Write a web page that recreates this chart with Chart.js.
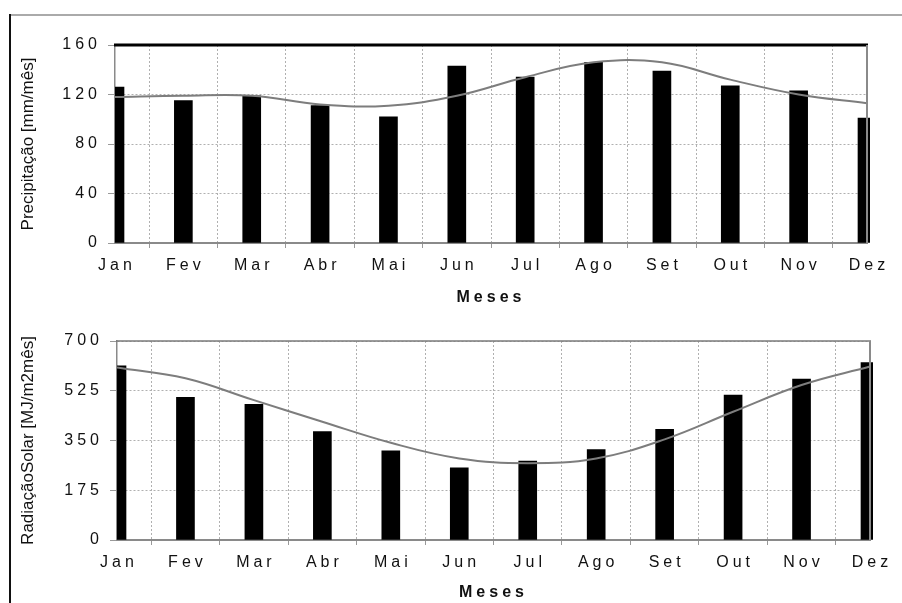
<!DOCTYPE html>
<html>
<head>
<meta charset="utf-8">
<script src="https://cdn.jsdelivr.net/npm/chart.js@4/dist/chart.umd.min.js"></script>
<style>
  html, body { margin: 0; padding: 0; background: #fff; }
  body { width: 902px; height: 603px; position: relative; overflow: hidden; }
  .box { position: absolute; left: 0; width: 902px; }
  #top-box { top: 0; height: 310px; }
  #bottom-box { top: 300px; height: 303px; }
  .rule-h { position: absolute; left: 10px; top: 14px; width: 892px; height: 2px; background: #aaa; }
  .rule-v { position: absolute; left: 9px; top: 14px; width: 2px; height: 589px; background: #111; }
</style>
</head>
<body>
<div class="rule-h"></div>
<div class="rule-v"></div>
<div class="box" id="top-box"><canvas id="precChart"></canvas></div>
<div class="box" id="bottom-box"><canvas id="radChart"></canvas></div>
<script>
const months = ['Jan', 'Fev', 'Mar', 'Abr', 'Mai', 'Jun', 'Jul', 'Ago', 'Set', 'Out', 'Nov', 'Dez'];

// Precipitação [mm/mês]
const precBars = [126, 115, 119, 111, 102, 143, 134, 146, 139, 127, 123, 101];
const precCurve = [118, 119, 119, 112, 111, 119, 134, 146, 146, 132, 120, 113];
const precTicks = [0, 40, 80, 120, 160];

// Radiação solar [MJ/m2mês]
const radBars = [613, 502, 477, 381, 314, 254, 278, 318, 389, 510, 566, 624];
const radCurve = [607, 569, 492, 416, 342, 287, 270, 287, 354, 451, 545, 610];
const radTicks = [0, 175, 350, 525, 700];

const tickFont = { family: 'Liberation Sans, Arial, sans-serif', size: 16 };
const spacing = 4;

// stretch tick labels and the x title a bit, like the wide lettering of the original
const wideLabels = {
    id: 'wideLabels',
    beforeDraw(chart) {
        const ctx = chart.ctx;
        Object.values(chart.scales).forEach(scale => {
            if (scale._wide) return;
            scale._wide = true;
            const spread = fn => area => {
                ctx.save();
                ctx.letterSpacing = spacing + 'px';
                fn.call(scale, area);
                ctx.restore();
            };
            scale.drawLabels = spread(scale.drawLabels);
            if (scale.axis === 'x') scale.drawTitle = spread(scale.drawTitle);
        });
    }
};

// top and right edge of the plot area
const frame = {
    id: 'frame',
    afterDatasetsDraw(chart, args, opts) {
        const { ctx, chartArea: a } = chart;
        ctx.save();
        ctx.strokeStyle = opts.topColor;
        ctx.lineWidth = opts.topWidth;
        ctx.beginPath();
        ctx.moveTo(a.left - 1, a.top);
        ctx.lineTo(a.right + 1, a.top);
        ctx.stroke();
        ctx.strokeStyle = '#8a8a8a';
        ctx.lineWidth = 2;
        ctx.beginPath();
        ctx.moveTo(a.right, a.top);
        ctx.lineTo(a.right, a.bottom);
        ctx.stroke();
        ctx.restore();
    }
};

function makeChart(canvasId, bars, curve, ticks, yTitle, box) {
    return new Chart(document.getElementById(canvasId), {
        data: {
            labels: months,
            datasets: [
                {
                    type: 'line',
                    data: curve,
                    borderColor: '#7d7d7d',
                    borderWidth: 2,
                    tension: 0.4,
                    pointRadius: 0,
                    clip: 2,
                    order: 0
                },
                {
                    type: 'bar',
                    data: bars,
                    backgroundColor: '#000',
                    barThickness: 18,
                    clip: { left: 0, right: 3, top: 5, bottom: 0 },
                    order: 1
                }
            ]
        },
        options: {
            responsive: true,
            maintainAspectRatio: false,
            animation: false,
            layout: { padding: { top: box.top, right: box.right, left: 0, bottom: 0 } },
            plugins: {
                legend: { display: false },
                tooltip: { enabled: false },
                frame: { topColor: box.topColor, topWidth: box.topWidth }
            },
            scales: {
                x: {
                    offset: false,
                    grid: {
                        color: '#b0b0b0',
                        tickColor: '#999',
                        tickLength: 5,
                        tickBorderDash: []
                    },
                    border: { color: '#8a8a8a', width: 2, dash: [2, 2] },
                    ticks: {
                        font: tickFont,
                        color: '#111',
                        padding: 8,
                        labelOffset: 2,
                        maxRotation: 0,
                        autoSkip: false
                    },
                    title: {
                        display: true,
                        text: 'Meses',
                        color: '#111',
                        font: { family: 'Liberation Sans, Arial, sans-serif', size: 16, weight: 'bold' },
                        padding: { top: 0, bottom: box.titlePad }
                    },
                    afterFit: s => { s.height = box.xHeight; }
                },
                y: {
                    min: ticks[0],
                    max: ticks[ticks.length - 1],
                    afterBuildTicks: s => { s.ticks = ticks.map(v => ({ value: v })); },
                    grid: {
                        color: '#b0b0b0',
                        tickColor: '#999',
                        tickLength: 7,
                        tickBorderDash: []
                    },
                    border: { color: '#8a8a8a', width: 1.5, dash: [2, 2] },
                    ticks: {
                        font: tickFont,
                        color: '#111',
                        padding: 7
                    },
                    title: {
                        display: true,
                        text: yTitle,
                        color: '#111',
                        font: { family: 'Liberation Sans, Arial, sans-serif', size: 17 },
                        padding: { top: 18, bottom: 0 }
                    },
                    afterFit: s => { s.width = box.yWidth; }
                }
            }
        },
        plugins: [wideLabels, frame]
    });
}

makeChart('precChart', precBars, precCurve, precTicks, 'Precipitação [mm/mês]',
    { top: 45, right: 35, yWidth: 115, xHeight: 67, titlePad: 3, topColor: '#000', topWidth: 3 });

makeChart('radChart', radBars, radCurve, radTicks, 'RadiaçãoSolar [MJ/m2mês]',
    { top: 41, right: 32, yWidth: 117, xHeight: 63, titlePad: 1, topColor: '#7a7a7a', topWidth: 1.5 });
</script>
</body>
</html>
